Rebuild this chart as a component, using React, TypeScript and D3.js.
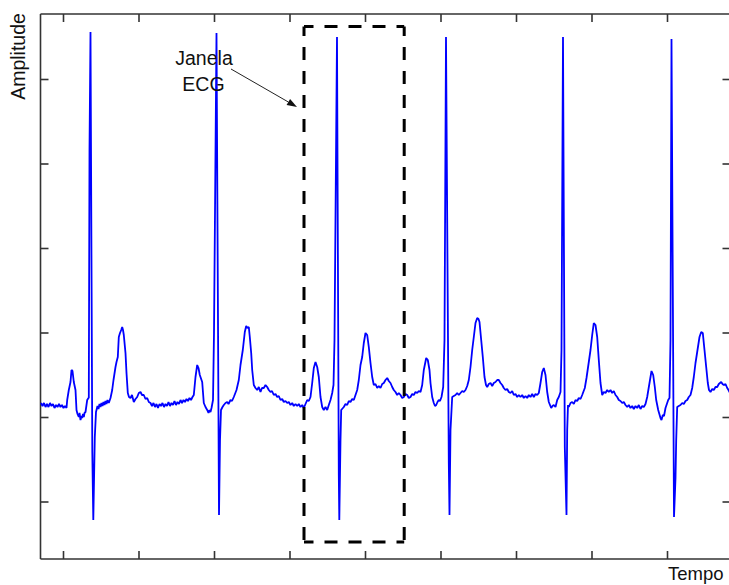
import React from "react";
import * as d3 from "d3";

// ---- data ----
// time axis: sample index (fs ≈ 151 Hz, ticks every 0.5 s); amplitude: ADC counts
const xLimits: [number, number] = [0, 690];
const yLimits: [number, number] = [441, 986];
const xTicks = [23, 98.5, 174, 249.5, 325, 400.5, 476, 551.5, 627];
const yTicks = [498, 582.5, 667, 751.5, 836, 920.5];

const xLabel = "Tempo";
const yLabel = "Amplitude";
const annotationLines = ["Janela", "ECG"];

// ECG window (data units)
const janelaInicio = 263.5;
const janelaFim = 363.7;
const janelaMin = 458;
const janelaMax = 973.5;

const ecg: [number, number][] = [
  // baseline
  [0.5, 597], [2, 594], [3.5, 597], [5, 593], [6.5, 596], [8, 593], [9.5, 597], [11, 594], [12.5, 596],
  [14, 592], [15.5, 595], [17, 593], [18.5, 596], [20, 593], [21.5, 595], [23, 592], [24.5, 594], [26, 592],
  // P1
  [26.7, 600], [28.3, 610], [30, 618], [31, 630], [32, 629], [33.3, 618], [35, 610], [36, 590], [37, 586],
  [38.3, 583], [39, 587], [40, 580], [41, 584], [41.7, 582], [42.5, 586], [43.3, 583], [44, 587], [45, 588],
  [46.7, 600], [48, 602],
  // QRS1
  [48.3, 602], [49, 850], [50, 968], [51.8, 548], [52.8, 480], [54.3, 563], [55.5, 588],
  // ST1
  [56, 590], [57, 594], [58, 591], [59, 596], [60, 593], [61, 597], [62, 594], [63, 598], [64, 595],
  [65, 599], [66, 596], [67, 600], [68.3, 597],
  // T1
  [70, 602], [71.7, 610], [73, 620], [75, 633], [76, 638], [77.3, 643], [78.3, 663], [79.5, 667], [80.7, 670],
  [81.7, 673], [82.5, 670], [83.3, 665], [85, 647], [86, 627], [87.3, 607], [88.5, 603], [90, 602],
  [91.5, 605], [93.3, 598], [95, 601], [96.7, 603], [98.3, 607], [100, 608], [101.5, 605], [103.3, 605],
  [105, 601], [106.7, 602], [108.3, 598], [110, 597],
  // baseline
  [111.5, 594], [113, 597], [114.5, 593], [116, 596], [117.5, 592], [119, 596], [120.5, 594], [122, 597],
  [123.5, 593], [125, 596], [126.5, 594], [128, 598], [129.5, 594], [131, 597], [132.5, 595], [134, 599],
  [135.5, 595], [137, 598], [138.5, 596], [140, 600], [141.5, 597], [143, 600], [144.5, 598], [146, 601],
  [147.5, 599], [149, 602], [150.5, 600], [152, 603], [153.3, 605],
  // P2
  [155, 623], [156.7, 635], [158, 632], [159.3, 625], [161.7, 618], [163.3, 597], [165, 593], [166.7, 590],
  [168, 587], [169, 590], [170, 588], [171, 592], [172.5, 600],
  // QRS2
  [173.5, 667], [176, 967], [178.5, 485], [179.5, 560], [180.5, 590],
  // ST2 + T2
  [182, 593], [183.3, 595], [185, 597], [186.7, 598], [188, 596], [190, 600], [191.5, 599], [193.3, 603],
  [196, 610], [198.3, 620], [200, 635], [202.3, 650], [204.3, 668], [205.7, 674], [207, 672], [208.3, 673],
  [209.3, 663], [210.7, 647], [211.7, 630], [213.3, 615], [215, 612], [216.7, 610], [218.3, 613], [220, 608],
  [221.5, 612], [223.3, 612], [225, 615], [226.7, 613], [228.3, 610], [230, 608], [231.5, 609], [233.3, 605],
  [235, 606], [236.7, 603], [238.3, 604], [240, 600], [241.7, 601], [243.3, 598], [245, 599], [246.7, 597],
  [248.3, 598], [250, 595], [251.7, 597], [253.3, 594], [255, 596], [256.7, 594], [258.3, 596], [260, 593],
  [261.7, 595], [263.3, 592], [265, 596], [266.7, 600], [268.3, 599], [270, 603],
  // P3
  [271.7, 617], [273.3, 632], [275, 638], [276.7, 633], [278.3, 623], [280, 603], [281.7, 593], [283.3, 590],
  [285, 593], [286.7, 590], [288.3, 595], [290, 600], [291.7, 607],
  // QRS3
  [293, 615], [294, 660], [296.5, 963], [298.3, 525], [298.8, 480], [300, 560], [300.7, 590],
  // ST3 + T3
  [303.3, 593], [305, 596], [306.7, 595], [308.3, 599], [310, 598], [311.7, 601], [313.3, 600], [315, 605],
  [316.7, 610], [318.3, 620], [320, 635], [321.7, 643], [323.3, 657], [325, 667], [326.7, 665], [328.3, 653],
  [330, 637], [331.7, 623], [333.3, 615], [335, 616], [336.7, 612], [338.3, 614], [340, 612], [341.7, 616],
  [343.3, 617], [345, 620], [346.7, 622], [348.3, 619], [350, 617], [351.7, 613], [353.3, 610], [355, 608],
  [356.7, 605], [358.3, 607], [360, 605], [361.7, 602], [363.3, 603], [365, 606], [366.7, 605], [368.3, 602],
  [370, 603], [371.7, 606], [373.3, 605], [375, 608], [376.7, 607], [378.3, 609], [380, 608],
  // P4
  [381.7, 615], [383.3, 630], [385.7, 642], [387.3, 640], [389, 630], [390, 617], [391.7, 603], [393.3, 597],
  [394.5, 594], [395.7, 595], [397, 598], [398.3, 600], [399.5, 599], [401, 603], [402.7, 613],
  // QRS4
  [404, 660], [405.5, 963], [408.3, 537], [409, 485], [410, 570], [411.7, 603],
  // ST4 + T4
  [413.3, 604], [415, 605], [416.7, 607], [418.3, 605], [420, 607], [421.7, 609], [423.3, 608], [425, 610],
  [426.7, 614], [428.3, 620], [430, 633], [431.7, 650], [433.3, 663], [435, 677], [436.7, 682], [438, 681],
  [439, 678], [440.7, 660], [442.3, 643], [444, 623], [445.5, 615], [446.7, 613], [448.3, 616], [450, 617],
  [451.7, 614], [453.3, 617], [455, 618], [456.7, 620], [458.3, 620], [460, 617], [461.7, 615], [463.3, 612],
  [465, 610], [466.7, 611], [468.3, 608], [470, 607], [471.7, 609], [473.3, 605], [475, 606], [476.7, 603],
  [478.3, 605], [480, 603], [481.7, 605], [483.3, 602], [485, 604], [486.7, 602], [488.3, 605], [490, 603],
  [491.7, 606], [493.3, 603], [495, 606], [496.7, 605], [498.3, 607],
  // P5
  [500, 617], [501.7, 628], [503.3, 632], [505, 625], [506.7, 608], [508.3, 598], [510.7, 592], [512, 594],
  [513.3, 595], [515, 593], [516.7, 600], [518.3, 603], [520, 608],
  // QRS5
  [521, 650], [522.5, 963], [524.3, 553], [526, 485], [526.7, 570], [527.5, 595],
  // ST5 + T5
  [528.3, 593], [530, 597], [531.7, 598], [533.3, 596], [535, 600], [536.7, 599], [538.3, 602], [540, 601],
  [541.7, 605], [544.3, 612], [546, 622], [548.3, 638], [550, 650], [551.7, 665], [553.3, 677], [555, 675],
  [556.7, 663], [558.3, 640], [560, 617], [561.7, 605], [563.3, 608], [565, 607], [566.7, 610], [568.3, 608],
  [570, 610], [571.7, 607], [573.3, 609], [575, 605], [576.7, 603], [578.3, 600], [580, 599], [581.7, 597],
  [583.3, 598], [585, 595], [586.7, 593], [588.3, 595], [590, 592], [591.7, 594], [593.3, 591], [595, 594],
  [596.7, 592], [598.3, 595], [600, 591], [601.7, 594], [603.3, 593], [605, 596],
  // P6
  [606.7, 603], [609, 617], [611, 629], [612.7, 625], [614.3, 613], [615.7, 600], [617.7, 590], [620, 582],
  [621, 580], [622.3, 585], [623.5, 584], [625, 592], [627.7, 600], [629, 602],
  // QRS6
  [630, 660], [631, 961], [633.5, 483], [635, 522], [635.7, 560], [636.7, 593],
  // ST6 + T6
  [638.3, 594], [640, 595], [641.7, 597], [643.3, 596], [645, 599], [646.7, 600], [648.3, 603], [650, 605],
  [651.7, 612], [653.3, 623], [655, 637], [656.7, 648], [659, 663], [660.7, 668], [662.3, 667], [664, 650],
  [665.7, 633], [667.3, 617], [668.5, 610], [670, 608], [671.7, 611], [673.3, 610], [675, 613], [676.7, 613],
  [678.3, 616], [680.7, 618], [682, 616], [683.3, 615], [685, 616], [686.7, 612], [688, 610], [689.5, 607],
];

// ---- layout ----
const W = 729;
const H = 585;
const left = 40.5;
const right = 730.5;
const top = 14;
const bottom = 559;
const tickLen = 8;
const font = "'Liberation Sans', Arial, Helvetica, sans-serif";

export default function App() {
  const x = d3.scaleLinear().domain(xLimits).range([left, right]);
  const y = d3.scaleLinear().domain(yLimits).range([bottom, top]);
  const line = d3
    .line<[number, number]>()
    .x((d) => x(d[0]))
    .y((d) => y(d[1]));

  const axisColor = "#333";
  const bx0 = x(janelaInicio);
  const bx1 = x(janelaFim);
  const by0 = y(janelaMax);
  const by1 = y(janelaMin);
  const dash = { strokeDasharray: "13 11", strokeDashoffset: 3.5 };

  // arrow
  const a0 = [231, 69];
  const a1 = [297, 107];
  const ang = Math.atan2(a1[1] - a0[1], a1[0] - a0[0]);
  const hl = 10;
  const hw = 3.5;
  const bxh = a1[0] - hl * Math.cos(ang);
  const byh = a1[1] - hl * Math.sin(ang);
  const head = [
    [a1[0], a1[1]],
    [bxh + hw * Math.sin(ang), byh - hw * Math.cos(ang)],
    [bxh - hw * Math.sin(ang), byh + hw * Math.cos(ang)],
  ];

  return (
    <svg
      width={W}
      height={H}
      style={{ position: "absolute", left: 0, top: 0, background: "#fff" }}
      fontFamily={font}
    >
      <rect x={0} y={0} width={W} height={H} fill="#fff" />
      {/* axes box */}
      <g stroke={axisColor} strokeWidth={1.6} fill="none">
        <line x1={left} y1={top} x2={right} y2={top} />
        <line x1={left} y1={bottom} x2={right} y2={bottom} />
        <line x1={left} y1={top} x2={left} y2={bottom} />
        <line x1={right} y1={top} x2={right} y2={bottom} />
        {xTicks.map((t) => (
          <g key={"x" + t}>
            <line x1={x(t)} x2={x(t)} y1={bottom} y2={bottom - tickLen} />
            <line x1={x(t)} x2={x(t)} y1={top} y2={top + tickLen} />
          </g>
        ))}
        {yTicks.map((t) => (
          <g key={"y" + t}>
            <line x1={left} x2={left + tickLen} y1={y(t)} y2={y(t)} />
            <line x1={right} x2={right - tickLen} y1={y(t)} y2={y(t)} />
          </g>
        ))}
      </g>

      {/* ECG trace */}
      <path d={line(ecg) || ""} fill="none" stroke="#0000ff" strokeWidth={1.8} strokeLinejoin="bevel" />

      {/* ECG window */}
      <g stroke="#000" strokeWidth={3} fill="none" {...dash}>
        <line x1={bx0} y1={by0} x2={bx1} y2={by0} />
        <line x1={bx0} y1={by0} x2={bx0} y2={by1} />
        <line x1={bx1} y1={by0} x2={bx1} y2={by1} />
        <line x1={bx0} y1={by1} x2={bx1} y2={by1} />
      </g>

      {/* annotation */}
      <text x={204} y={65} fontSize={19.5} textAnchor="middle" fill="#111">
        {annotationLines[0]}
      </text>
      <text x={203.5} y={90.5} fontSize={19.5} textAnchor="middle" fill="#111">
        {annotationLines[1]}
      </text>
      <line x1={a0[0]} y1={a0[1]} x2={bxh} y2={byh} stroke="#222" strokeWidth={1} />
      <polygon points={head.map((p) => p.join(",")).join(" ")} fill="#111" />

      {/* labels */}
      <text transform="translate(25,56.5) rotate(-90)" fontSize={19.5} textAnchor="middle" fill="#111">
        {yLabel}
      </text>
      <text x={668} y={580} fontSize={18.5} fill="#111">
        {xLabel}
      </text>
    </svg>
  );
}
